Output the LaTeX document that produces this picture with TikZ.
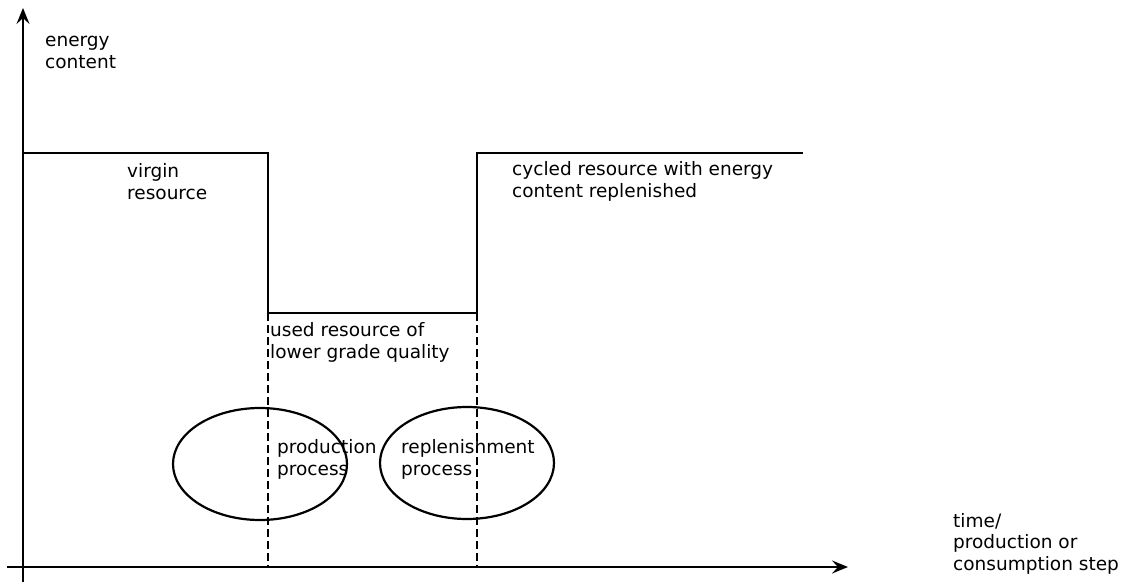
\documentclass[tikz,border=0pt]{standalone}
\usepackage{fontspec}
\setmainfont{DejaVu Sans}
\usetikzlibrary{arrows.meta,shapes.geometric}
\begin{document}
\begin{tikzpicture}[x=1pt,y=-1pt,
  axis/.style={line width=2.4pt,-{Stealth[length=16pt,width=13pt,inset=6pt]}},
  level/.style={line width=2.6pt,line join=miter},
  guide/.style={line width=2pt,dash pattern=on 8pt off 4pt},
  proc/.style={draw,ellipse,line width=2.2pt,minimum width=174pt,minimum height=112pt,inner sep=0pt},
  lbl/.style={anchor=base west,align=left,inner sep=0pt,font=\fontsize{18.5}{21.5}\selectfont}]
\useasboundingbox (0,0) rectangle (1125,582);
% axes
\coordinate (o1) at (23,582);
\coordinate (ytip) at (23,8);
\coordinate (o2) at (7,567);
\coordinate (xtip) at (848,567);
\draw[axis] (o1) -- (ytip);
\draw[axis] (o2) -- (xtip);
% energy level of the resource
\coordinate (s0) at (23,153);
\coordinate (s1) at (268,153);
\coordinate (s2) at (268,313);
\coordinate (s3) at (477,313);
\coordinate (s4) at (477,153);
\coordinate (s5) at (803,153);
\draw[level] (s0) -- (s1) -- (s2) -- (s3) -- (s4) -- (s5);
% dashed process boundaries
\coordinate (d1) at (268,567);
\coordinate (d2) at (477,567);
\draw[guide] (s2) -- (d1);
\draw[guide] (s3) -- (d2);
% processes
\node[proc] (prod) at (260,464) {};
\node[proc] (repl) at (467,463) {};
% labels (placed at the baseline of their last line)
\node[lbl] (ylab) at (45,68) {energy\\content};
\node[lbl] (virgin) at (127,199) {virgin\\resource};
\node[lbl] (cycled) at (512,197) {cycled resource with energy\\content replenished};
\node[lbl] (used) at (270,358) {used resource of\\lower grade quality};
\node[lbl] (prodlab) at (277,475) {production\\process};
\node[lbl] (repllab) at (401,475) {replenishment\\process};
\node[lbl] (xlab) at (953,570) {time/\\production or\\consumption step};
\end{tikzpicture}
\end{document}
